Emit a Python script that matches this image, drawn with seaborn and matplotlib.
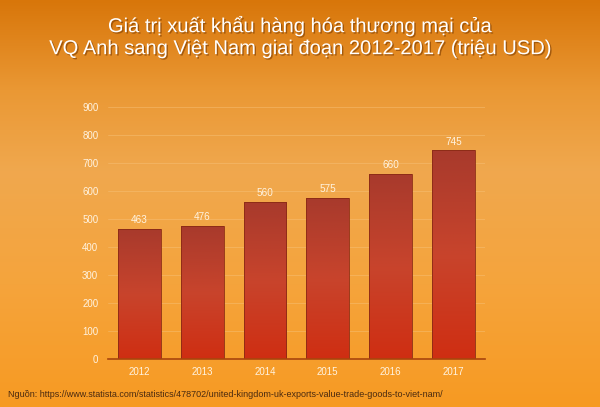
import numpy as np
import pandas as pd
import matplotlib
matplotlib.use("Agg")
import matplotlib.pyplot as plt
import matplotlib.patheffects as pe
from matplotlib.colors import LinearSegmentedColormap
import seaborn as sns

years = ["2012", "2013", "2014", "2015", "2016", "2017"]
values = [463, 476, 560, 575, 660, 745]
yticks = [0, 100, 200, 300, 400, 500, 600, 700, 800, 900]
title_text = "Giá trị xuất khẩu hàng hóa thương mại của\nVQ Anh sang Việt Nam giai đoạn 2012-2017 (triệu USD)"
source_text = "Nguồn: https://www.statista.com/statistics/478702/united-kingdom-uk-exports-value-trade-goods-to-viet-nam/"

sns.set_theme(style="white")
plt.rcParams['font.family'] = ['Liberation Sans', 'DejaVu Sans']

fig = plt.figure(figsize=(6, 4.07), dpi=100)

# background gradient
bg = fig.add_axes([0, 0, 1, 1], zorder=0)
bg_cmap = LinearSegmentedColormap.from_list(
    "bg", [(0.0, "#d8760a"), (0.22, "#ea9834"), (0.42, "#f0a84e"),
           (0.7, "#f5a43c"), (1.0, "#f79a22")])
grad = np.linspace(0, 1, 256).reshape(-1, 1)
bg.imshow(grad, aspect="auto", cmap=bg_cmap, extent=[0, 1, 0, 1], origin="upper")
bg.set_axis_off()

ax = fig.add_axes([0.18, 0.118, 0.628, 0.619], zorder=1)
ax.patch.set_alpha(0)

df = pd.DataFrame({"year": years, "value": values})
sns.barplot(data=df, x="year", y="value", ax=ax, width=0.68,
            color="#c0392b", edgecolor="#8a2a14", linewidth=0.6, zorder=3)

bar_cmap = LinearSegmentedColormap.from_list("bar", ["#cf2e12", "#c8442c", "#a83a2c"])
bgrad = np.linspace(0, 1, 256).reshape(-1, 1)
for p in ax.patches:
    x0, y0 = p.get_x(), p.get_y()
    w, h = p.get_width(), p.get_height()
    im = ax.imshow(bgrad, aspect="auto", cmap=bar_cmap, origin="lower",
                   extent=[x0, x0 + w, y0, y0 + h], zorder=3.5)
    im.set_clip_path(p)
    p.set_facecolor("none")
    p.set_zorder(4)

for i, v in enumerate(values):
    ax.text(i, v + 14, str(v), ha="center", va="bottom", fontsize=7.2,
            color="#fff3e0", zorder=5)

ax.set_xlim(-0.5, 5.5)
ax.set_ylim(0, 900)
ax.set_yticks(yticks)
ax.set_yticklabels([str(t) for t in yticks])
ax.grid(axis="y", color="#f7c27a", linewidth=0.6, alpha=0.55, zorder=1)
ax.set_axisbelow(True)
for s in ["top", "right", "left"]:
    ax.spines[s].set_visible(False)
ax.spines["bottom"].set_color("#a8450c")
ax.spines["bottom"].set_linewidth(1.2)
ax.spines["bottom"].set_zorder(6)
ax.tick_params(axis="both", length=0, labelsize=7, labelcolor="#fff3e0")
ax.tick_params(axis="y", pad=7)
ax.tick_params(axis="x", pad=6)
ax.set_xlabel("")
ax.set_ylabel("")

fig.text(0.5, 0.91, title_text, ha="center", va="center", fontsize=14.5,
         color="white", linespacing=1.2,
         path_effects=[pe.withSimplePatchShadow(offset=(1, -1), shadow_rgbFace="#7a3a00", alpha=0.6)])
fig.text(0.013, 0.03, source_text, ha="left", va="center", fontsize=6.5, color="#4a2a10")

fig.savefig("out.png", dpi=100)
